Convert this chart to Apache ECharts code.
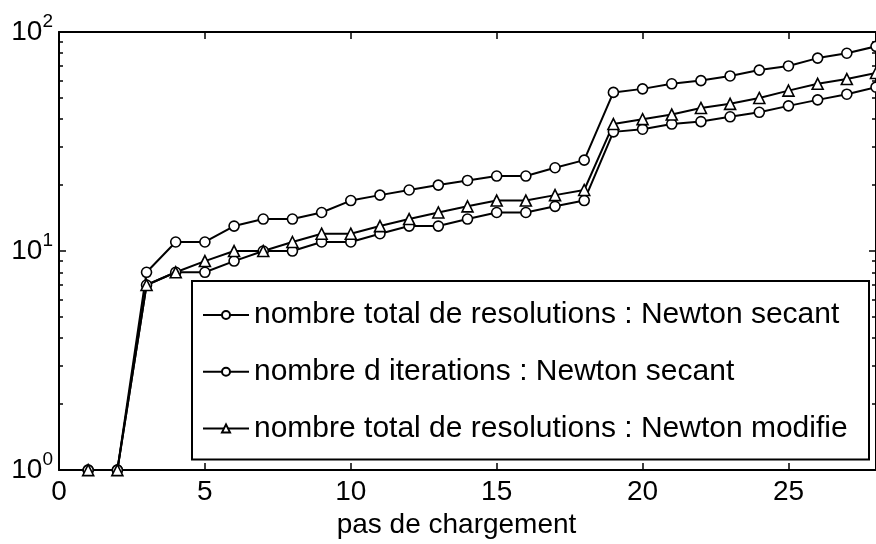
<!DOCTYPE html>
<html lang="fr">
<head>
    <meta charset="utf-8">
    <script src="https://cdn.jsdelivr.net/npm/echarts@6/dist/echarts.min.js"></script>
    <style>
        html, body { margin: 0; padding: 0; background: #fff; }
        #chart { width: 876px; height: 544px; }
    </style>
</head>
<body>
    <div id="chart"></div>
    <script>
        // pas de chargement
        const steps = [1, 2, 3, 4, 5, 6, 7, 8, 9, 10, 11, 12, 13, 14, 15, 16, 17, 18, 19, 20, 21, 22, 23, 24, 25, 26, 27, 28]
        // nombre total de resolutions : Newton secant
        const resolSecant = [1, 1, 8, 11, 11, 13, 14, 14, 15, 17, 18, 19, 20, 21, 22, 22, 24, 26, 53, 55, 58, 60, 63, 67, 70, 76, 80, 86]
        // nombre d iterations : Newton secant
        const iterSecant = [1, 1, 7, 8, 8, 9, 10, 10, 11, 11, 12, 13, 13, 14, 15, 15, 16, 17, 35, 36, 38, 39, 41, 43, 46, 49, 52, 56]
        // nombre total de resolutions : Newton modifie
        const resolModifie = [1, 1, 7, 8, 9, 10, 10, 11, 12, 12, 13, 14, 15, 16, 17, 17, 18, 19, 38, 40, 42, 45, 47, 50, 54, 58, 61, 65]

        const seriesNames = [
            'nombre total de resolutions : Newton secant',
            'nombre d iterations : Newton secant',
            'nombre total de resolutions : Newton modifie'
        ]
        const xTicks = [0, 5, 10, 15, 20, 25]
        const yMajor = [1, 10, 100]
        const yMinor = [2, 3, 4, 5, 6, 7, 8, 9, 20, 30, 40, 50, 60, 70, 80, 90]

        const font = 'Liberation Sans'
        const black = '#000'

        function pairs(ys) {
            return steps.map((x, i) => [x, ys[i]])
        }

        function makeSeries(name, ys, symbol, size) {
            return {
                name: name,
                type: 'line',
                data: pairs(ys),
                symbol: symbol,
                symbolSize: size,
                clip: false,
                lineStyle: { color: black, width: 2 },
                itemStyle: { color: '#fff', borderColor: black, borderWidth: 1.6 },
                emphasis: { disabled: true }
            }
        }

        const chart = echarts.init(document.querySelector('#chart'))
        chart.setOption({
            animation: false,
            backgroundColor: '#fff',
            textStyle: { fontFamily: font, color: black },
            grid: { left: 59, right: -4, top: 32, bottom: 70 },
            legend: {
                orient: 'vertical',
                left: 192,
                top: 281,
                padding: [19, 5, 16, 10],
                itemGap: 26.7,
                itemWidth: 46,
                itemHeight: 10,
                borderColor: black,
                borderWidth: 2,
                backgroundColor: '#fff',
                selectedMode: false,
                textStyle: { fontFamily: font, fontSize: 30, lineHeight: 30, color: black, width: 610 },
                data: seriesNames
            },
            xAxis: [{
                type: 'value',
                min: 0,
                max: 28,
                interval: 5,
                position: 'bottom',
                name: 'pas de chargement',
                nameLocation: 'middle',
                nameGap: 35,
                nameTextStyle: { fontFamily: font, fontSize: 28, color: black, padding: [0, 22, 0, 0], verticalAlign: 'top' },
                axisLine: { lineStyle: { color: black, width: 2 } },
                axisTick: { inside: true, length: 7, lineStyle: { color: black, width: 1.5 }, customValues: xTicks },
                axisLabel: { fontFamily: font, fontSize: 28, color: black, margin: 8, customValues: xTicks },
                splitLine: { show: false }
            }, {
                type: 'value',
                min: 0,
                max: 28,
                interval: 5,
                position: 'top',
                axisLine: { lineStyle: { color: black, width: 2 } },
                axisTick: { inside: true, length: 7, lineStyle: { color: black, width: 1.5 }, customValues: xTicks },
                axisLabel: { show: false },
                splitLine: { show: false }
            }],
            yAxis: [{
                type: 'log',
                logBase: 10,
                min: 1,
                max: 100,
                position: 'left',
                axisLine: { show: true, lineStyle: { color: black, width: 2 } },
                axisTick: { show: true, inside: true, length: 7, lineStyle: { color: black, width: 1.5 }, customValues: yMajor },
                axisLabel: {
                    margin: 6,
                    customValues: yMajor,
                    formatter: v => '{b|10}{s|' + Math.round(Math.log10(v)) + '}',
                    rich: {
                        b: { fontFamily: font, fontSize: 28, color: black },
                        s: { fontFamily: font, fontSize: 19, color: black, padding: [0, 0, 20, 0] }
                    }
                },
                splitLine: { show: false }
            }, {
                type: 'log',
                logBase: 10,
                min: 1,
                max: 100,
                position: 'left',
                axisLine: { show: false },
                axisTick: { show: true, inside: true, length: 4, lineStyle: { color: black, width: 1.5 }, customValues: yMinor },
                axisLabel: { show: false },
                splitLine: { show: false }
            }, {
                type: 'log',
                logBase: 10,
                min: 1,
                max: 100,
                position: 'right',
                axisLine: { show: true, lineStyle: { color: black, width: 2 } },
                axisTick: { show: true, inside: true, length: 7, lineStyle: { color: black, width: 1.5 }, customValues: yMajor },
                axisLabel: { show: false },
                splitLine: { show: false }
            }, {
                type: 'log',
                logBase: 10,
                min: 1,
                max: 100,
                position: 'right',
                axisLine: { show: false },
                axisTick: { show: true, inside: true, length: 4, lineStyle: { color: black, width: 1.5 }, customValues: yMinor },
                axisLabel: { show: false },
                splitLine: { show: false }
            }],
            series: [
                makeSeries(seriesNames[0], resolSecant, 'circle', 10),
                makeSeries(seriesNames[1], iterSecant, 'circle', 10),
                makeSeries(seriesNames[2], resolModifie, 'triangle', 11)
            ]
        })
    </script>
</body>
</html>
